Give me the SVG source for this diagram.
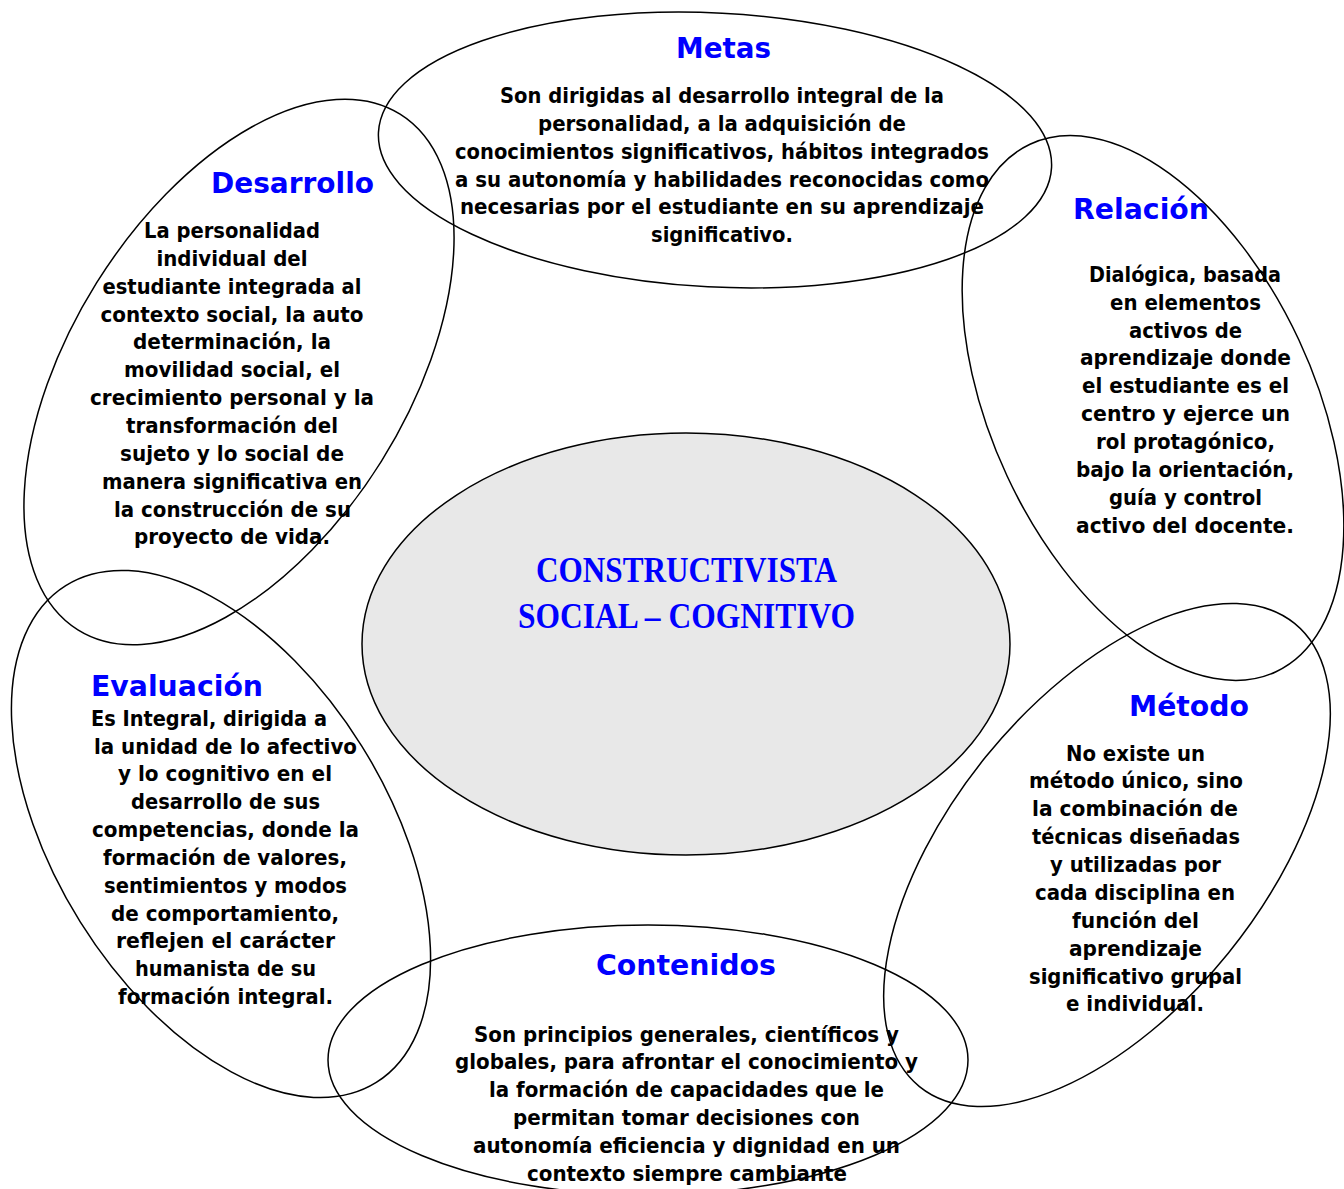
<svg xmlns="http://www.w3.org/2000/svg" width="1344" height="1189" viewBox="0 0 1344 1189">
<style>
.o{fill:none;stroke:#000;stroke-width:1.5}
.ctr{fill:#e8e8e8;stroke:#000;stroke-width:1.5}
.t{font-family:"DejaVu Sans",Verdana,sans-serif;font-weight:bold;font-size:29px;fill:#0000ff}
.b{font-family:"DejaVu Sans",Verdana,sans-serif;font-weight:bold;font-size:21px;fill:#000;text-anchor:middle}
.c{font-family:"Liberation Serif","Times New Roman",serif;font-weight:bold;font-size:36px;fill:#0000ff;text-anchor:middle}
</style>
<rect width="1344" height="1189" fill="#fff"/>

<g id="centro">
<ellipse class="ctr" cx="686" cy="644" rx="324" ry="211"/>
<text class="c" x="686.5" y="582" textLength="301" lengthAdjust="spacingAndGlyphs">CONSTRUCTIVISTA</text>
<text class="c" x="686.5" y="628" textLength="337" lengthAdjust="spacingAndGlyphs">SOCIAL – COGNITIVO</text>
</g>

<g id="metas">
<ellipse class="o" cx="715" cy="150" rx="337" ry="137" transform="rotate(3 715 150)"/>
<text class="t" x="676" y="58" textLength="95" lengthAdjust="spacingAndGlyphs">Metas</text>
<text class="b" x="722" y="103" textLength="444" lengthAdjust="spacingAndGlyphs">Son dirigidas al desarrollo integral de la</text>
<text class="b" x="722" y="131" textLength="368" lengthAdjust="spacingAndGlyphs">personalidad, a la adquisición de</text>
<text class="b" x="722" y="159" textLength="534" lengthAdjust="spacingAndGlyphs">conocimientos significativos, hábitos integrados</text>
<text class="b" x="722" y="187" textLength="534" lengthAdjust="spacingAndGlyphs">a su autonomía y habilidades reconocidas como</text>
<text class="b" x="722" y="214" textLength="524" lengthAdjust="spacingAndGlyphs">necesarias por el estudiante en su aprendizaje</text>
<text class="b" x="722" y="242" textLength="142" lengthAdjust="spacingAndGlyphs">significativo.</text>
</g>

<g id="desarrollo">
<ellipse class="o" cx="239" cy="372" rx="304" ry="168" transform="rotate(-58 239 372)"/>
<text class="t" x="211" y="193" textLength="163" lengthAdjust="spacingAndGlyphs">Desarrollo</text>
<text class="b" x="232" y="238" textLength="176" lengthAdjust="spacingAndGlyphs">La personalidad</text>
<text class="b" x="232" y="266" textLength="151" lengthAdjust="spacingAndGlyphs">individual del</text>
<text class="b" x="232" y="294" textLength="259" lengthAdjust="spacingAndGlyphs">estudiante integrada al</text>
<text class="b" x="232" y="322" textLength="263" lengthAdjust="spacingAndGlyphs">contexto social, la auto</text>
<text class="b" x="232" y="349" textLength="198" lengthAdjust="spacingAndGlyphs">determinación, la</text>
<text class="b" x="232" y="377" textLength="216" lengthAdjust="spacingAndGlyphs">movilidad social, el</text>
<text class="b" x="232" y="405" textLength="284" lengthAdjust="spacingAndGlyphs">crecimiento personal y la</text>
<text class="b" x="232" y="433" textLength="212" lengthAdjust="spacingAndGlyphs">transformación del</text>
<text class="b" x="232" y="461" textLength="224" lengthAdjust="spacingAndGlyphs">sujeto y lo social de</text>
<text class="b" x="232" y="489" textLength="260" lengthAdjust="spacingAndGlyphs">manera significativa en</text>
<text class="b" x="232.5" y="517" textLength="237" lengthAdjust="spacingAndGlyphs">la construcción de su</text>
<text class="b" x="232" y="544" textLength="196" lengthAdjust="spacingAndGlyphs">proyecto de vida.</text>
</g>

<g id="relacion">
<ellipse class="o" cx="1153" cy="408" rx="291" ry="161" transform="rotate(65 1153 408)"/>
<text class="t" x="1073" y="219" textLength="136" lengthAdjust="spacingAndGlyphs">Relación</text>
<text class="b" x="1185" y="282" textLength="192" lengthAdjust="spacingAndGlyphs">Dialógica, basada</text>
<text class="b" x="1185.5" y="310" textLength="151" lengthAdjust="spacingAndGlyphs">en elementos</text>
<text class="b" x="1185.5" y="338" textLength="113" lengthAdjust="spacingAndGlyphs">activos de</text>
<text class="b" x="1185.5" y="365" textLength="211" lengthAdjust="spacingAndGlyphs">aprendizaje donde</text>
<text class="b" x="1185.5" y="393" textLength="207" lengthAdjust="spacingAndGlyphs">el estudiante es el</text>
<text class="b" x="1185.5" y="421" textLength="209" lengthAdjust="spacingAndGlyphs">centro y ejerce un</text>
<text class="b" x="1185.5" y="449" textLength="179" lengthAdjust="spacingAndGlyphs">rol protagónico,</text>
<text class="b" x="1185" y="477" textLength="218" lengthAdjust="spacingAndGlyphs">bajo la orientación,</text>
<text class="b" x="1185.5" y="505" textLength="153" lengthAdjust="spacingAndGlyphs">guía y control</text>
<text class="b" x="1185" y="533" textLength="218" lengthAdjust="spacingAndGlyphs">activo del docente.</text>
</g>

<g id="evaluacion">
<ellipse class="o" cx="221" cy="834" rx="293" ry="166" transform="rotate(58 221 834)"/>
<text class="t" x="91" y="696" textLength="172" lengthAdjust="spacingAndGlyphs">Evaluación</text>
<text class="b" x="209" y="726" textLength="236" lengthAdjust="spacingAndGlyphs">Es Integral, dirigida a</text>
<text class="b" x="225.5" y="754" textLength="263" lengthAdjust="spacingAndGlyphs">la unidad de lo afectivo</text>
<text class="b" x="225" y="781" textLength="214" lengthAdjust="spacingAndGlyphs">y lo cognitivo en el</text>
<text class="b" x="225.5" y="809" textLength="189" lengthAdjust="spacingAndGlyphs">desarrollo de sus</text>
<text class="b" x="225.5" y="837" textLength="267" lengthAdjust="spacingAndGlyphs">competencias, donde la</text>
<text class="b" x="225" y="865" textLength="244" lengthAdjust="spacingAndGlyphs">formación de valores,</text>
<text class="b" x="225.5" y="893" textLength="243" lengthAdjust="spacingAndGlyphs">sentimientos y modos</text>
<text class="b" x="225" y="921" textLength="228" lengthAdjust="spacingAndGlyphs">de comportamiento,</text>
<text class="b" x="225.5" y="948" textLength="219" lengthAdjust="spacingAndGlyphs">reflejen el carácter</text>
<text class="b" x="225.5" y="976" textLength="181" lengthAdjust="spacingAndGlyphs">humanista de su</text>
<text class="b" x="225.5" y="1004" textLength="215" lengthAdjust="spacingAndGlyphs">formación integral.</text>
</g>

<g id="metodo">
<ellipse class="o" cx="1107" cy="855" rx="298" ry="156" transform="rotate(-51 1107 855)"/>
<text class="t" x="1129" y="716" textLength="120" lengthAdjust="spacingAndGlyphs">Método</text>
<text class="b" x="1135.5" y="761" textLength="139" lengthAdjust="spacingAndGlyphs">No existe un</text>
<text class="b" x="1136" y="788" textLength="214" lengthAdjust="spacingAndGlyphs">método único, sino</text>
<text class="b" x="1135" y="816" textLength="206" lengthAdjust="spacingAndGlyphs">la combinación de</text>
<text class="b" x="1136" y="844" textLength="208" lengthAdjust="spacingAndGlyphs">técnicas diseñadas</text>
<text class="b" x="1135.5" y="872" textLength="171" lengthAdjust="spacingAndGlyphs">y utilizadas por</text>
<text class="b" x="1135" y="900" textLength="200" lengthAdjust="spacingAndGlyphs">cada disciplina en</text>
<text class="b" x="1135.5" y="928" textLength="127" lengthAdjust="spacingAndGlyphs">función del</text>
<text class="b" x="1135.5" y="956" textLength="133" lengthAdjust="spacingAndGlyphs">aprendizaje</text>
<text class="b" x="1135.5" y="984" textLength="213" lengthAdjust="spacingAndGlyphs">significativo grupal</text>
<text class="b" x="1135" y="1011" textLength="138" lengthAdjust="spacingAndGlyphs">e individual.</text>
</g>

<g id="contenidos">
<ellipse class="o" cx="648" cy="1060" rx="320" ry="135"/>
<text class="t" x="596" y="975" textLength="180" lengthAdjust="spacingAndGlyphs">Contenidos</text>
<text class="b" x="686.5" y="1042" textLength="425" lengthAdjust="spacingAndGlyphs">Son principios generales, científicos y</text>
<text class="b" x="686.5" y="1069" textLength="463" lengthAdjust="spacingAndGlyphs">globales, para afrontar el conocimiento y</text>
<text class="b" x="686.5" y="1097" textLength="395" lengthAdjust="spacingAndGlyphs">la formación de capacidades que le</text>
<text class="b" x="686.5" y="1125" textLength="347" lengthAdjust="spacingAndGlyphs">permitan tomar decisiones con</text>
<text class="b" x="686.5" y="1153" textLength="427" lengthAdjust="spacingAndGlyphs">autonomía eficiencia y dignidad en un</text>
<text class="b" x="687" y="1181" textLength="320" lengthAdjust="spacingAndGlyphs">contexto siempre cambiante</text>
</g>
</svg>
